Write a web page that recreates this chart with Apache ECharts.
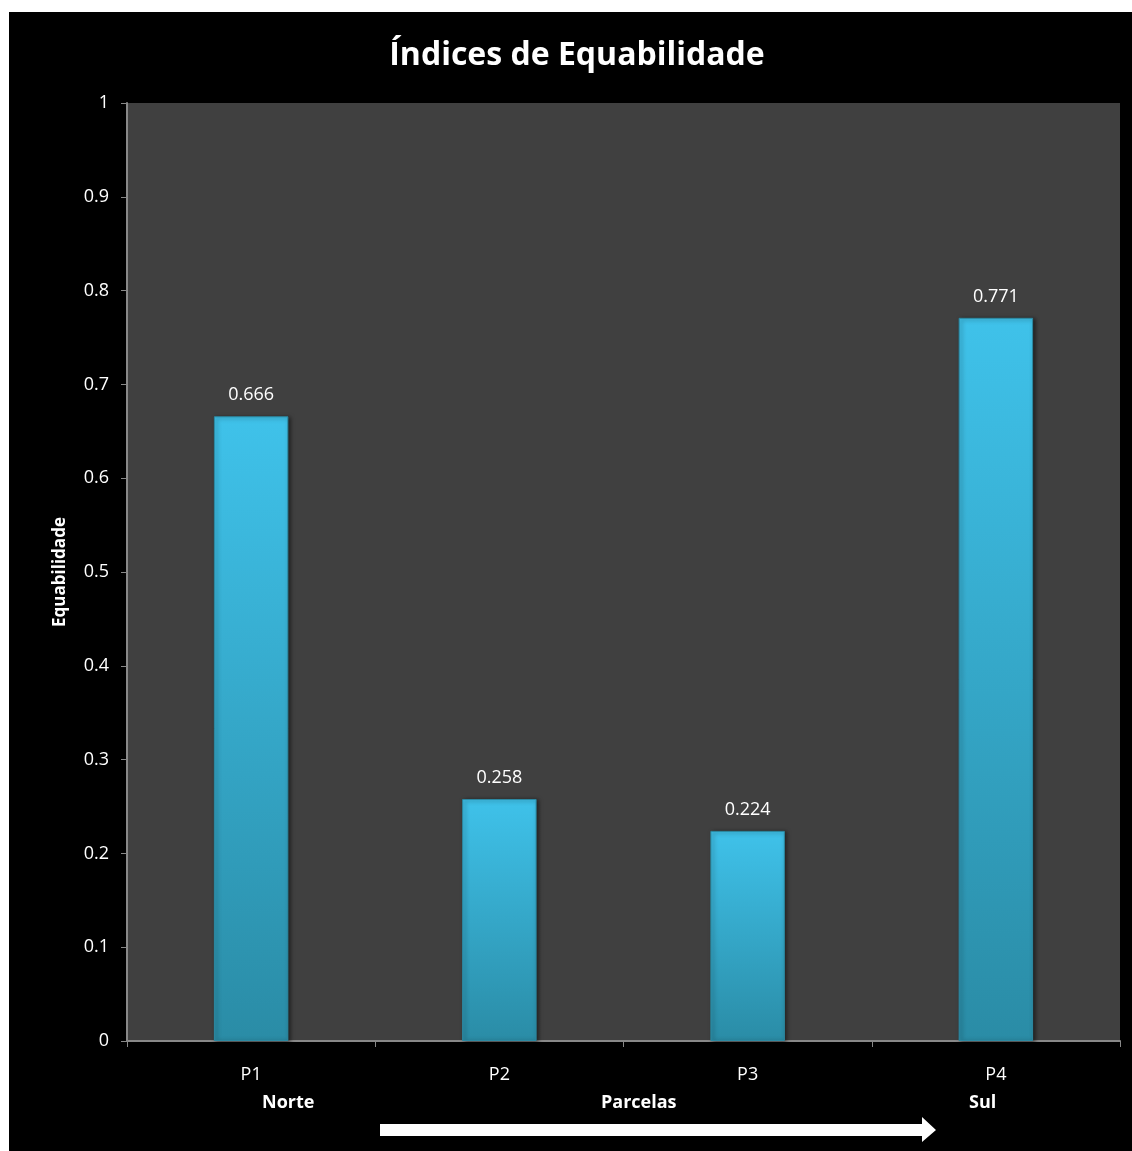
<!DOCTYPE html>
<html><head><meta charset="utf-8">
<script src="https://cdn.jsdelivr.net/npm/echarts@6/dist/echarts.min.js"></script>
<style>
html,body{margin:0;padding:0;background:#fff;width:1132px;height:1151px;overflow:hidden}
#c{position:absolute;left:9px;top:12px;width:1123px;height:1139px;background:#000}
</style></head><body>
<div id="c"></div>
<script>
const categories = ['P1','P2','P3','P4'];
const values = [0.666, 0.258, 0.224, 0.771];
const yTicks = [0,0.1,0.2,0.3,0.4,0.5,0.6,0.7,0.8,0.9,1];

const chart = echarts.init(document.getElementById('c'));
const font = '"Open Sans", "Liberation Sans", sans-serif';
chart.setOption({
  backgroundColor: '#000',
  animation: false,
  title: {
    text: 'Índices de Equabilidade',
    left: 563, top: 23, textAlign: 'center',
    textStyle: {color:'#fff', fontSize: 32, fontWeight:'bold', fontFamily: font}
  },
  grid: {left:118, top:91, right:12, bottom:110, backgroundColor:'#404040', show:true, borderWidth:0},
  xAxis: {
    type:'category', data: categories,
    axisLine:{lineStyle:{color:'#888', width:2}},
    axisTick:{show:true, length:6, lineStyle:{color:'#888'}},
    axisLabel:{color:'#fff', fontSize:18, margin:25, fontFamily: font}
  },
  yAxis: {
    type:'value', min:0, max:1, interval:0.1,
    name:'Equabilidade', nameLocation:'middle', nameGap:58, nameRotate:90,
    nameTextStyle:{color:'#fff', fontSize:17, fontWeight:'bold', fontFamily: font},
    axisLine:{show:true, lineStyle:{color:'#888', width:2}},
    axisTick:{show:true, length:6, lineStyle:{color:'#888'}},
    splitLine:{show:false},
    axisLabel:{color:'#fff', fontSize:18, margin:18, fontFamily: font,
      formatter: v => String(Math.round(v*10)/10)}
  },
  series: [{
    type:'bar', data: values, barWidth:'30%',
    itemStyle:{
      color: new echarts.graphic.LinearGradient(0,0,0,1,[
        {offset:0, color:'#3fc2ea'},
        {offset:1, color:'#2a8ca6'}
      ]),
      borderColor:'#2c8aa3', borderWidth:1,
      shadowColor:'rgba(0,0,0,0.5)', shadowBlur:4, shadowOffsetX:2, shadowOffsetY:1
    },
    label:{show:true, position:'top', distance:12, color:'#fff', fontSize:18, fontFamily: font,
      formatter: p => p.value.toFixed(3)}
  }],
  graphic: [
    {type:'text', left:262-9, top:1092-10, style:{text:'Norte', fill:'#fff', font:'bold 18px ' + font}},
    {type:'text', left:601-9, top:1092-10, style:{text:'Parcelas', fill:'#fff', font:'bold 18px ' + font}},
    {type:'text', left:969-9, top:1092-10, style:{text:'Sul', fill:'#fff', font:'bold 18px ' + font}},
    {type:'polygon', shape:{points:[
      [380-9,1124-12],[922-9,1124-12],[922-9,1117-12],[936-9,1130-12],[922-9,1142-12],[922-9,1136-12],[380-9,1136-12]
    ]}, style:{fill:'#fff'}}
  ]
});
</script>
</body></html>
